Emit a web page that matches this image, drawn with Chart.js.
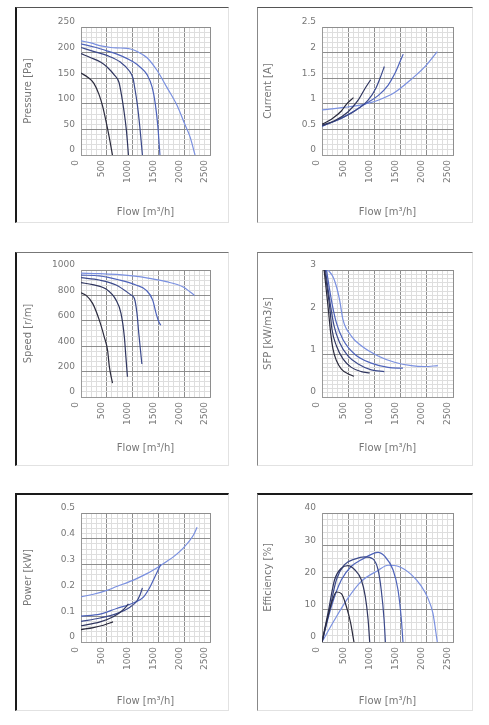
<!DOCTYPE html>
<html>
<head>
<meta charset="utf-8">
<script src="https://cdn.jsdelivr.net/npm/chart.js@4/dist/chart.umd.min.js"></script>
<style>
  body { margin: 0; background: #fff; }
  .panel { position: absolute; box-sizing: border-box; border-right: 1px solid #e2e2e2; border-bottom: 1px solid #e2e2e2; }
  canvas { position: absolute; }
</style>
</head>
<body>
<script>
// x tick labels (flow, m3/h)
const flowLabels = [0, 500, 1000, 1500, 2000, 2500];

// Pressure [Pa] - five fan speed curves
const pressureQ = [
  [0, 130, 250, 350, 420, 480, 545, 610],
  [0, 190, 385, 515, 640, 735, 780, 830, 880, 920],
  [0, 255, 515, 770, 930, 1010, 1040, 1090, 1140, 1190],
  [0, 255, 515, 770, 1025, 1155, 1280, 1380, 1440, 1490, 1530],
  [0, 190, 385, 575, 770, 960, 1090, 1280, 1475, 1665, 1860, 2020, 2115, 2210]
];
const pressureV = [
  [160, 152, 140, 118, 95, 68, 36, 0],
  [198, 190, 181, 171, 157, 142, 120, 88, 48, 0],
  [210, 202, 194, 181, 165, 149, 132, 100, 55, 0],
  [217, 211, 203, 194, 181, 171, 157, 132, 100, 55, 0],
  [223, 219, 213, 210, 209, 207, 202, 190, 165, 132, 97, 58, 35, 0]
];

// Current [A]
const currentQ = [
  [0, 180, 370, 465, 600],
  [0, 240, 495, 690, 815, 930],
  [0, 305, 625, 880, 1035, 1130, 1190],
  [0, 430, 815, 1070, 1260, 1385, 1480, 1550],
  [0, 430, 750, 1070, 1385, 1705, 1960, 2200]
];
const currentV = [
  [0.60, 0.70, 0.86, 0.99, 1.12],
  [0.58, 0.67, 0.84, 1.07, 1.29, 1.47],
  [0.57, 0.69, 0.86, 1.07, 1.32, 1.56, 1.73],
  [0.56, 0.75, 0.99, 1.16, 1.36, 1.58, 1.80, 1.97],
  [0.88, 0.93, 0.98, 1.07, 1.22, 1.48, 1.72, 2.02]
];

// Speed [r/m]
const speedQ = [
  [0, 100, 225, 355, 450, 515, 550, 610],
  [0, 225, 485, 680, 775, 840, 870, 900],
  [0, 355, 680, 970, 1035, 1085, 1120, 1180],
  [0, 355, 745, 1065, 1260, 1390, 1455, 1500, 1545],
  [0, 355, 680, 1000, 1325, 1650, 1970, 2200]
];
const speedV = [
  [820, 800, 737, 605, 474, 368, 237, 110],
  [900, 885, 850, 763, 658, 474, 316, 160],
  [940, 921, 882, 803, 776, 658, 500, 260],
  [960, 953, 921, 882, 842, 763, 658, 600, 565],
  [975, 972, 965, 953, 934, 908, 868, 800]
];

// SFP [kW/m3/s]
const sfpQ = [
  [40, 115, 165, 210, 275, 370, 495, 610],
  [50, 145, 190, 275, 400, 560, 750, 910],
  [65, 165, 230, 335, 495, 690, 940, 1190],
  [85, 190, 275, 400, 625, 940, 1260, 1545],
  [115, 210, 275, 335, 400, 560, 750, 1070, 1385, 1705, 1960, 2210]
];
const sfpV = [
  [3.0, 2.14, 1.52, 1.13, 0.86, 0.66, 0.55, 0.49],
  [3.0, 2.14, 1.60, 1.21, 0.90, 0.70, 0.60, 0.57],
  [3.0, 2.14, 1.68, 1.29, 0.97, 0.78, 0.64, 0.60],
  [3.0, 2.22, 1.75, 1.36, 1.01, 0.80, 0.70, 0.68],
  [3.0, 2.84, 2.61, 2.30, 1.83, 1.44, 1.21, 0.97, 0.82, 0.74, 0.72, 0.74]
];

// Power [kW]
const powerQ = [
  [0, 240, 435, 620],
  [0, 370, 625, 820, 920],
  [0, 370, 690, 950, 1080, 1145, 1190],
  [0, 370, 690, 1015, 1210, 1340, 1435, 1545],
  [0, 240, 500, 690, 1015, 1275, 1530, 1660, 1790, 1985, 2180, 2250]
];
const powerV = [
  [0.048, 0.056, 0.065, 0.078],
  [0.063, 0.078, 0.098, 0.125, 0.148],
  [0.080, 0.093, 0.110, 0.135, 0.158, 0.183, 0.210],
  [0.100, 0.108, 0.130, 0.151, 0.174, 0.214, 0.254, 0.300],
  [0.175, 0.185, 0.200, 0.215, 0.240, 0.265, 0.295, 0.312, 0.330, 0.365, 0.415, 0.445]
];

// Efficiency [%]
const effQ = [
  [0, 85, 180, 275, 370, 465, 545, 610],
  [0, 115, 240, 370, 495, 625, 750, 825, 880, 910],
  [0, 145, 275, 430, 625, 815, 975, 1070, 1130, 1185, 1210],
  [0, 180, 370, 560, 750, 975, 1070, 1195, 1355, 1450, 1515, 1545],
  [0, 240, 495, 750, 1070, 1260, 1450, 1705, 1895, 2020, 2115, 2200]
];
const effV = [
  [0, 6, 12, 15.5, 15, 11, 6, 0],
  [0, 9, 19.3, 22.9, 23.7, 22.4, 19.3, 14.2, 6.9, 0],
  [0, 10, 19.3, 24, 25.7, 26.4, 25.7, 22.4, 16.2, 6.9, 0],
  [0, 11.1, 19.3, 23.5, 25.5, 27.4, 27.8, 26.6, 22.4, 16.2, 6.9, 0],
  [0, 6.9, 13.6, 18.8, 22.2, 23.8, 23.5, 20.9, 17.3, 13.6, 9, 0]
];

const lineColors = ['#2b2b3d', '#30365f', '#3c4a8c', '#4e63ba', '#7a90e0'];

// panel frames: columns and rows
const cols = [
  { x: 15, w: 214, L: 81, R: 210, titleX: 28, edge: '2px solid #1a1a1a' },
  { x: 257, w: 216, L: 322, R: 453, titleX: 268, edge: '1px solid #888' }
];
const rows = [
  { y: 7, h: 216, T: 27, B: 155, titleY: 212, edge: '1px solid #555' },
  { y: 252, h: 214, T: 270, B: 397, titleY: 448, edge: '1px solid #777' },
  { y: 493, h: 218, T: 513, B: 642, titleY: 701, edge: '2px solid #1a1a1a' }
];

const txt = '#777';
const major = '#8e8e8e';
const minor = '#dedede';

function isMajor(v, step) {
  const r = v / step;
  return Math.abs(r - Math.round(r)) < 1e-6;
}

function makeChart(col, row, yTitle, yMax, yStep, yMajor, qs, vs) {
  const c = cols[col], r = rows[row];
  const frame = document.createElement('div');
  frame.className = 'panel';
  frame.style.cssText = `left:${c.x}px;top:${r.y}px;width:${c.w}px;height:${r.h}px;border-left:${c.edge};border-top:${r.edge};`;
  document.body.appendChild(frame);

  const cv = document.createElement('canvas');
  cv.width = c.w; cv.height = r.h;
  cv.style.left = c.x + 'px'; cv.style.top = r.y + 'px';
  document.body.appendChild(cv);

  const datasets = qs.map((q, i) => ({
    data: q.map((x, j) => ({ x: x, y: vs[i][j] })),
    borderColor: lineColors[i],
    borderWidth: 1.2,
    pointRadius: 0,
    cubicInterpolationMode: 'monotone',
    fill: false
  }));

  new Chart(cv, {
    type: 'line',
    data: { datasets },
    options: {
      responsive: false,
      animation: false,
      layout: { padding: { left: 0, top: r.T - r.y, right: c.x + c.w - c.R, bottom: 0 } },
      plugins: { legend: { display: false }, tooltip: { enabled: false } },
      scales: {
        x: {
          type: 'linear', min: 0, max: 2500,
          afterFit: s => { s.height = r.y + r.h - r.B; },
          grid: { drawTicks: false, color: ctx => isMajor(ctx.tick.value, 500) ? major : minor },
          border: { color: '#999' },
          ticks: {
            stepSize: 100, autoSkip: false, maxTicksLimit: 100,
            minRotation: 90, maxRotation: 90, padding: 5, labelOffset: -5,
            color: txt, font: { family: 'DejaVu Sans', size: 9 },
            callback: v => flowLabels.includes(v) ? String(v) : ''
          },
          title: {
            display: true, text: 'Flow [m³/h]', color: txt,
            font: { family: 'DejaVu Sans', size: 10 },
            padding: { top: 0, bottom: r.y + r.h - r.titleY - 6 }
          }
        },
        y: {
          type: 'linear', min: 0, max: yMax,
          afterFit: s => { s.width = c.L - c.x; },
          grid: { drawTicks: false, color: ctx => isMajor(ctx.tick.value, yMajor) ? major : minor },
          border: { color: '#999' },
          ticks: {
            stepSize: yStep, autoSkip: false, maxTicksLimit: 100,
            padding: 6, labelOffset: -5,
            color: txt, font: { family: 'DejaVu Sans', size: 9 },
            callback: v => isMajor(v, yMajor) ? String(+v.toFixed(2)) : ''
          },
          title: {
            display: true, text: yTitle, color: txt,
            font: { family: 'DejaVu Sans', size: 10 },
            padding: { top: c.titleX - c.x - 6, bottom: 0 }
          }
        }
      }
    }
  });
}

makeChart(0, 0, 'Pressure [Pa]', 250, 10, 50, pressureQ, pressureV);
makeChart(1, 0, 'Current [A]', 2.5, 0.1, 0.5, currentQ, currentV);
makeChart(0, 1, 'Speed [r/m]', 1000, 40, 200, speedQ, speedV);
makeChart(1, 1, 'SFP [kW/m3/s]', 3, 0.1, 1, sfpQ, sfpV);
makeChart(0, 2, 'Power [kW]', 0.5, 0.02, 0.1, powerQ, powerV);
makeChart(1, 2, 'Efficiency [%]', 40, 2, 10, effQ, effV);
</script>
</body>
</html>
